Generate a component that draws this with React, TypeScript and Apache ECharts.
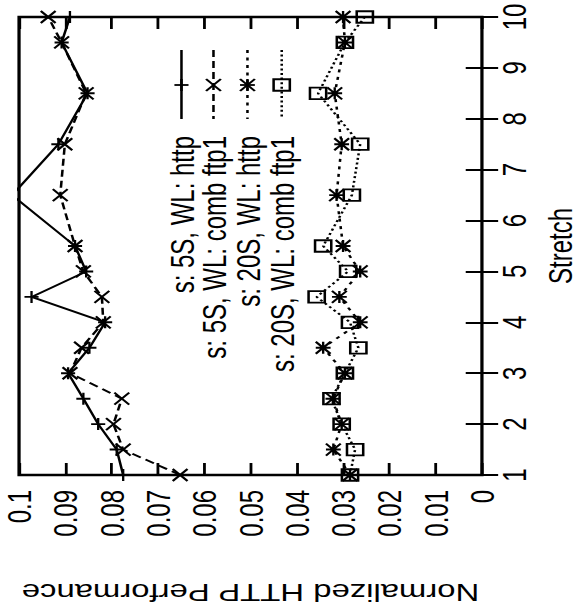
import React, { useEffect, useRef } from "react";
import * as echarts from "echarts";

// The reference is a gnuplot chart turned 90° counter-clockwise and stretched horizontally.
const SCALE_X = 1.41;
const PAGE_W = 579;
const PAGE_H = 615;
const FONT = "'Liberation Sans', Arial, Helvetica, sans-serif";

// ---- data ----
const stretch = [1, 1.5, 2, 2.5, 3, 3.5, 4, 4.5, 5, 5.5, 6.5, 7.5, 8.5, 9.5, 10];
const http5S = [0.0775, 0.0789, 0.0829, 0.0861, 0.0894, 0.0848, 0.0814, 0.0973, 0.0855, 0.0879, 0.1015, 0.0915, 0.0852, 0.0908, 0.089];
const ftp5S = [0.0652, 0.0775, 0.0796, 0.0778, 0.089, 0.0865, 0.0818, 0.0821, 0.0861, 0.0879, 0.0911, 0.0901, 0.0855, 0.0908, 0.0937];
const http20S = [0.0285, 0.0321, 0.0303, 0.0322, 0.0296, 0.0343, 0.0263, 0.0308, 0.0263, 0.03, 0.0314, 0.0303, 0.0318, 0.0296, 0.03];
const ftp20S = [0.0285, 0.0274, 0.0303, 0.0325, 0.0296, 0.0267, 0.0285, 0.0357, 0.0289, 0.0343, 0.0281, 0.0263, 0.0354, 0.0296, 0.0253];

const seriesNames = [
  "s: 5S, WL: http",
  "s: 5S, WL: comb ftp1",
  "s: 20S, WL: http",
  "s: 20S, WL: comb ftp1",
];
const perfTickLabels = ["0", "0.01", "0.02", "0.03", "0.04", "0.05", "0.06", "0.07", "0.08", "0.09", "0.1"];
const stretchTickLabels = ["1", "2", "3", "4", "5", "6", "7", "8", "9", "10"];
const xAxisTitle = "Normalized HTTP Performance";
const yAxisTitle = "Stretch";

// ---- styles ----
const SYM = {
  plus: "path://M0,5L10,5M5,0L5,10",
  cross: "path://M0,0L10,10M10,0L0,10",
  star: "path://M0,5L10,5M5,0L5,10M0,0L10,10M10,0L0,10",
  square: "path://M0,0L10,0L10,10L0,10Z",
};
const symbolKinds = ["plus", "cross", "star", "square"] as const;
const symbolSizes: number[][] = [[10, 12], [10.5, 12], [10.5, 12], [11.5, 11.5]];
const dashes: (string | number[])[] = ["solid", [7, 4], [3, 4.5], [2, 2.6]];
const LW = 1.8;

function App() {
  const ref = useRef<HTMLDivElement>(null);

  useEffect(() => {
    if (!ref.current) return;
    const chart = echarts.init(ref.current, undefined, { renderer: "svg" });

    const valueSets = [http5S, ftp5S, http20S, ftp20S];
    const series = valueSets.map((vals, k) => ({
      type: "line",
      name: seriesNames[k],
      data: stretch.map((s, i) => [vals[i], s]),
      xAxisIndex: 0,
      yAxisIndex: 0,
      symbol: SYM[symbolKinds[k]],
      symbolSize: symbolSizes[k],
      showSymbol: true,
      showAllSymbol: true,
      clip: true,
      silent: true,
      lineStyle: { color: "#000", width: LW, type: dashes[k], cap: "butt" },
      itemStyle: { color: "rgba(0,0,0,0)", borderColor: "#000", borderWidth: LW },
      emphasis: { disabled: true },
      z: 3,
    }));

    // legend drawn rotated like the reference
    const legendX = [128.7, 151.4, 175.5, 199.8];
    const lineTop = 50;
    const lineBot = 119;
    const markY = 85;
    const textEnd = 136;
    const stroke = { stroke: "#000", lineWidth: LW, fill: "none" };
    const legendEls: any[] = [];
    legendX.forEach((cx, k) => {
      legendEls.push({
        type: "text",
        x: cx,
        y: textEnd,
        rotation: Math.PI / 2,
        silent: true,
        style: {
          text: seriesNames[k],
          fontSize: 24,
          fontFamily: FONT,
          fill: "#000",
          align: "right",
          verticalAlign: "middle",
        },
      });
      legendEls.push({
        type: "line",
        silent: true,
        shape: { x1: cx, y1: lineTop, x2: cx, y2: lineBot },
        style: { stroke: "#000", lineWidth: LW, lineDash: dashes[k] === "solid" ? null : dashes[k], lineCap: "butt" },
      });
      const kind = symbolKinds[k];
      const hw = symbolSizes[k][0] / 2;
      const hh = symbolSizes[k][1] / 2;
      if (kind === "plus" || kind === "star") {
        legendEls.push({ type: "line", silent: true, shape: { x1: cx - hw, y1: markY, x2: cx + hw, y2: markY }, style: stroke });
        legendEls.push({ type: "line", silent: true, shape: { x1: cx, y1: markY - hh, x2: cx, y2: markY + hh }, style: stroke });
      }
      if (kind === "cross" || kind === "star") {
        legendEls.push({ type: "line", silent: true, shape: { x1: cx - hw, y1: markY - hh, x2: cx + hw, y2: markY + hh }, style: stroke });
        legendEls.push({ type: "line", silent: true, shape: { x1: cx + hw, y1: markY - hh, x2: cx - hw, y2: markY + hh }, style: stroke });
      }
      if (kind === "square") {
        legendEls.push({ type: "rect", silent: true, shape: { x: cx - hw, y: markY - hh, width: hw * 2, height: hh * 2 }, style: stroke });
      }
    });

    const tickStyle = { color: "#000", width: 2 };
    const labelBase = { color: "#000", fontSize: 24, fontFamily: FONT };

    chart.setOption({
      animation: false,
      backgroundColor: "#fff",
      grid: {
        left: 13.5,
        top: 17,
        width: 328.3,
        height: 458,
        show: true,
        borderColor: "#000",
        borderWidth: 2.3,
        backgroundColor: "transparent",
        containLabel: false,
        outerBoundsMode: "none",
      },
      xAxis: [
        {
          type: "value",
          position: "bottom",
          inverse: true,
          min: 0,
          max: 0.1,
          interval: 0.01,
          splitLine: { show: false },
          axisLine: { show: false },
          axisTick: { show: true, inside: true, length: 12, lineStyle: tickStyle },
          axisLabel: {
            ...labelBase,
            rotate: 90,
            margin: 15,
            formatter: (v: number) => perfTickLabels[Math.round(v * 100)] ?? "",
          },
          name: xAxisTitle,
          nameLocation: "middle",
          nameRotate: 180,
          nameGap: 106,
          nameMoveOverlap: false,
          nameTextStyle: { ...labelBase, fontSize: 23.3 },
        },
        {
          type: "value",
          position: "top",
          inverse: true,
          min: 0,
          max: 0.1,
          interval: 0.01,
          splitLine: { show: false },
          axisLine: { show: false },
          axisTick: { show: true, inside: true, length: 12, lineStyle: tickStyle },
          axisLabel: { show: false },
        },
      ],
      yAxis: [
        {
          type: "value",
          position: "right",
          min: 1,
          max: 10,
          interval: 1,
          splitLine: { show: false },
          axisLine: { show: false },
          axisTick: { show: true, inside: true, length: 11.5, lineStyle: tickStyle },
          axisLabel: {
            ...labelBase,
            rotate: 90,
            margin: 11,
            formatter: (v: number) => stretchTickLabels[Math.round(v) - 1] ?? "",
          },
          name: yAxisTitle,
          nameLocation: "middle",
          nameRotate: 90,
          nameGap: 43.5,
          nameMoveOverlap: false,
          nameTextStyle: { ...labelBase },
        },
        {
          type: "value",
          position: "left",
          min: 1,
          max: 10,
          interval: 1,
          splitLine: { show: false },
          axisLine: { show: false },
          axisTick: { show: true, inside: true, length: 11.5, lineStyle: tickStyle },
          axisLabel: { show: false },
        },
      ],
      graphic: [{ type: "group", silent: true, children: legendEls }],
      series,
    } as any);

    return () => chart.dispose();
  }, []);

  return (
    <div
      ref={ref}
      style={{
        position: "fixed",
        left: 0,
        top: 0,
        width: PAGE_W / SCALE_X,
        height: PAGE_H,
        transform: `scaleX(${SCALE_X})`,
        transformOrigin: "0 0",
        background: "#fff",
      }}
    />
  );
}

export default App;
